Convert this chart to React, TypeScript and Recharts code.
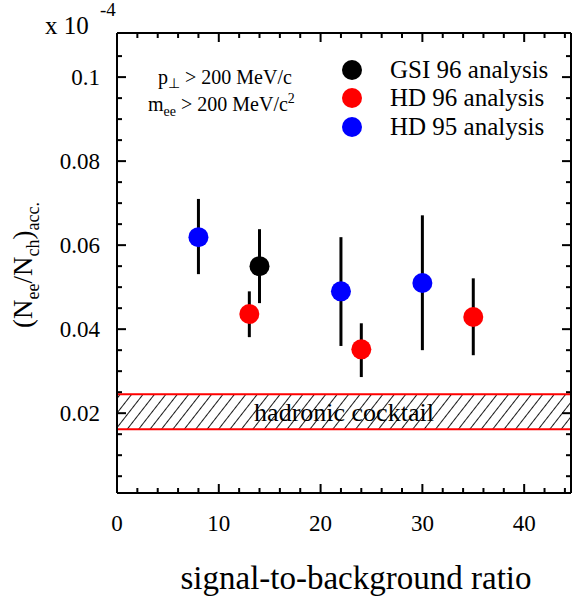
import React from 'react';
import { ScatterChart, Scatter, XAxis, YAxis, ErrorBar, ReferenceArea } from 'recharts';

// signal-to-background ratio, (Nee/Nch)acc. and error bar bounds
const gsi96X = [14];
const gsi96Y = [0.055];
const gsi96Lo = [0.0462];
const gsi96Hi = [0.0638];

const hd96X = [13, 24, 35];
const hd96Y = [0.0436, 0.0352, 0.0429];
const hd96Lo = [0.0381, 0.0286, 0.0338];
const hd96Hi = [0.049, 0.0414, 0.0521];

const hd95X = [8, 22, 30];
const hd95Y = [0.0619, 0.049, 0.051];
const hd95Lo = [0.0531, 0.036, 0.035];
const hd95Hi = [0.071, 0.0619, 0.0671];

// hadronic cocktail band
const cocktailLo = 0.0162;
const cocktailHi = 0.0245;

const xTicks = [0, 2, 4, 6, 8, 10, 12, 14, 16, 18, 20, 22, 24, 26, 28, 30, 32, 34, 36, 38, 40, 42, 44];
const xLabelTicks = [0, 10, 20, 30, 40];
const yTicks = [
  0.005, 0.01, 0.015, 0.02, 0.025, 0.03, 0.035, 0.04, 0.045, 0.05, 0.055,
  0.06, 0.065, 0.07, 0.075, 0.08, 0.085, 0.09, 0.095, 0.1, 0.105,
];
const yLabelTicks = [0.02, 0.04, 0.06, 0.08, 0.1];
const yLabelText = ['0.02', '0.04', '0.06', '0.08', '0.1'];

const FONT = '"Liberation Serif", "Times New Roman", serif';
const serif = { fontFamily: FONT };

const toPoints = (xs: number[], ys: number[], lo: number[], hi: number[]) =>
  xs.map((x, i) => ({ x, y: ys[i], err: [ys[i] - lo[i], hi[i] - ys[i]] }));

const gsi96 = toPoints(gsi96X, gsi96Y, gsi96Lo, gsi96Hi);
const hd96 = toPoints(hd96X, hd96Y, hd96Lo, hd96Hi);
const hd95 = toPoints(hd95X, hd95Y, hd95Lo, hd95Hi);

const dot = (color: string) => (props: any) =>
  <circle cx={props.cx} cy={props.cy} r={10} fill={color} />;

const BottomTick = (props: any) => {
  const { x, y, payload } = props;
  const major = xLabelTicks.includes(payload.value);
  return (
    <g>
      <line x1={x} x2={x} y1={y} y2={y - (major ? 9 : 5)} stroke="#000" strokeWidth={2} />
      {major && (
        <text x={x} y={y + 38} textAnchor="middle" fontSize={23} style={serif} fill="#000">
          {payload.value}
        </text>
      )}
    </g>
  );
};

const TopTick = (props: any) => {
  const { x, y, payload } = props;
  const major = xLabelTicks.includes(payload.value);
  return <line x1={x} x2={x} y1={y} y2={y + (major ? 9 : 5)} stroke="#000" strokeWidth={2} />;
};

const LeftTick = (props: any) => {
  const { x, y, payload } = props;
  const idx = yLabelTicks.indexOf(payload.value);
  return (
    <g>
      <line x1={x} x2={x + (idx >= 0 ? 9 : 5)} y1={y} y2={y} stroke="#000" strokeWidth={2} />
      {idx >= 0 && (
        <text x={x - 17} y={y + 8} textAnchor="end" fontSize={23} style={serif} fill="#000">
          {yLabelText[idx]}
        </text>
      )}
    </g>
  );
};

const RightTick = (props: any) => {
  const { x, y, payload } = props;
  const major = yLabelTicks.includes(payload.value);
  return <line x1={x} x2={x - (major ? 9 : 5)} y1={y} y2={y} stroke="#000" strokeWidth={2} />;
};

const axisLine = { stroke: '#000', strokeWidth: 2 };

export default function App() {
  return (
    <div style={{ position: 'absolute', left: 0, top: 0, width: 572, height: 602, background: '#fff' }}>
      <svg width={0} height={0} style={{ position: 'absolute' }}>
        <defs>
          <pattern id="hatch" patternUnits="userSpaceOnUse" width={9} height={9} patternTransform="rotate(38)">
            <line x1={4.5} y1={0} x2={4.5} y2={9} stroke="#000" strokeWidth={0.9} />
          </pattern>
        </defs>
      </svg>
      <ScatterChart width={572} height={602} margin={{ top: 32, right: 0, bottom: 108, left: 116 }}>
        <XAxis
          xAxisId="b"
          type="number"
          dataKey="x"
          domain={[0, 44.6]}
          allowDataOverflow
          ticks={xTicks}
          interval={0}
          height={1}
          tickSize={0}
          tickMargin={0}
          tickLine={false}
          axisLine={axisLine}
          tick={BottomTick}
        />
        <XAxis
          xAxisId="t"
          orientation="top"
          type="number"
          dataKey="x"
          domain={[0, 44.6]}
          allowDataOverflow
          ticks={xTicks}
          interval={0}
          height={1}
          tickSize={0}
          tickMargin={0}
          tickLine={false}
          axisLine={axisLine}
          tick={TopTick}
        />
        <YAxis
          yAxisId="l"
          type="number"
          dataKey="y"
          domain={[0.001, 0.1105]}
          allowDataOverflow
          ticks={yTicks}
          interval={0}
          width={1}
          tickSize={0}
          tickMargin={0}
          tickLine={false}
          axisLine={axisLine}
          tick={LeftTick}
        />
        <YAxis
          yAxisId="r"
          orientation="right"
          type="number"
          dataKey="y"
          domain={[0.001, 0.1105]}
          allowDataOverflow
          ticks={yTicks}
          interval={0}
          width={1}
          tickSize={0}
          tickMargin={0}
          tickLine={false}
          axisLine={axisLine}
          tick={RightTick}
        />
        <ReferenceArea
          xAxisId="b"
          yAxisId="l"
          y1={cocktailLo}
          y2={cocktailHi}
          fill="url(#hatch)"
          fillOpacity={1}
          stroke="#ff0000"
          strokeWidth={2}
          label={{ value: 'hadronic cocktail', position: 'center', fontSize: 26, style: serif, fill: '#000' }}
        />
        <Scatter xAxisId="b" yAxisId="l" data={hd95} shape={dot('#0000ff')} isAnimationActive={false}>
          <ErrorBar dataKey="err" direction="y" width={0} stroke="#000" strokeWidth={3} />
        </Scatter>
        <Scatter xAxisId="b" yAxisId="l" data={hd96} shape={dot('#ff0000')} isAnimationActive={false}>
          <ErrorBar dataKey="err" direction="y" width={0} stroke="#000" strokeWidth={3} />
        </Scatter>
        <Scatter xAxisId="b" yAxisId="l" data={gsi96} shape={dot('#000000')} isAnimationActive={false}>
          <ErrorBar dataKey="err" direction="y" width={0} stroke="#000" strokeWidth={3} />
        </Scatter>
      </ScatterChart>
      <svg
        width={572}
        height={602}
        style={{ position: 'absolute', left: 0, top: 0, pointerEvents: 'none', fontFamily: FONT }}
      >
        <text x={45} y={34} fontSize={25} style={serif}>x 10</text>
        <text x={100} y={16} fontSize={19} style={serif}>-4</text>

        <text transform="translate(32,265) rotate(-90)" textAnchor="middle" fontSize={27} style={serif}>
          (N<tspan fontSize={18} dy={7}>ee</tspan>
          <tspan dy={-7}>/N</tspan>
          <tspan fontSize={18} dy={7}>ch</tspan>
          <tspan dy={-7}>)</tspan>
          <tspan fontSize={18} dy={7}>acc.</tspan>
        </text>

        <text x={356} y={589} textAnchor="middle" fontSize={33} style={serif}>signal-to-background ratio</text>

        <text x={158} y={84} fontSize={20} style={serif}>
          p<tspan fontSize={14} dy={4}>⊥</tspan>
          <tspan dy={-4}> &gt; 200 MeV/c</tspan>
        </text>
        <text x={148} y={111} fontSize={20} style={serif}>
          m<tspan fontSize={14} dy={5}>ee</tspan>
          <tspan dy={-5}> &gt; 200 MeV/c</tspan>
          <tspan fontSize={14} dy={-8}>2</tspan>
        </text>

        <circle cx={352} cy={70} r={10} fill="#000" />
        <circle cx={352} cy={98} r={10} fill="#ff0000" />
        <circle cx={352} cy={127} r={10} fill="#0000ff" />
        <text x={390} y={78} fontSize={25} style={serif}>GSI 96 analysis</text>
        <text x={390} y={106} fontSize={25} style={serif}>HD 96 analysis</text>
        <text x={390} y={135} fontSize={25} style={serif}>HD 95 analysis</text>
      </svg>
    </div>
  );
}
